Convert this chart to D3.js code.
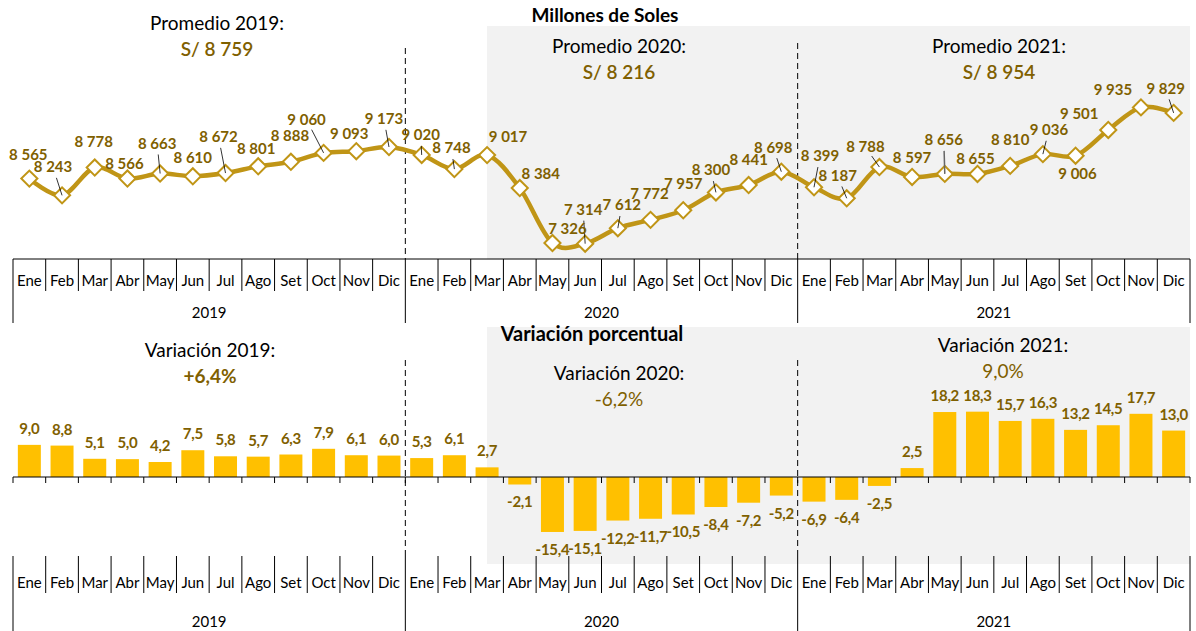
<!DOCTYPE html>
<html>
<head>
<meta charset="utf-8">
<script src="https://cdn.jsdelivr.net/npm/d3@7"></script>
<style>
  body { margin: 0; background: #fff; }
  svg { display: block; font-family: Lato, "Open Sans", sans-serif; }
</style>
</head>
<body>
<svg id="chart"></svg>
<script>
// data
const months = ['Ene', 'Feb', 'Mar', 'Abr', 'May', 'Jun', 'Jul', 'Ago', 'Set', 'Oct', 'Nov', 'Dic'];
const years = ['2019', '2020', '2021'];
const soles = [
  8565, 8243, 8778, 8566, 8663, 8610, 8672, 8801, 8888, 9060, 9093, 9173,
  9020, 8748, 9017, 8384, 7326, 7314, 7612, 7772, 7957, 8300, 8441, 8698,
  8399, 8187, 8788, 8597, 8656, 8655, 8810, 9036, 9006, 9501, 9935, 9829
];
const variacion = [
  9.0, 8.8, 5.1, 5.0, 4.2, 7.5, 5.8, 5.7, 6.3, 7.9, 6.1, 6.0,
  5.3, 6.1, 2.7, -2.1, -15.4, -15.1, -12.2, -11.7, -10.5, -8.4, -7.2, -5.2,
  -6.9, -6.4, -2.5, 2.5, 18.2, 18.3, 15.7, 16.3, 13.2, 14.5, 17.7, 13.0
];
const promedio = ['S/ 8 759', 'S/ 8 216', 'S/ 8 954'];
const variacionAnual = ['+6,4%', '-6,2%', '9,0%'];

// label nudges for the line chart (dx, dy from point), and which get a leader line
const nudge = [
  [-1,-24],[-9,-28],[-1,-26],[-3,-15],[-3,-30],[0,-18],[-7,-36],[-2,-17],[-1,-26],[-17,-33],[-7,-17],[-5,-28],
  [-1,-20],[-3,-21],[21,-18],[21,-14],[15,-14],[-2,-34],[4,-23],[-1,-26],[0,-26],[-5,-22],[0,-25],[-8,-24],
  [6,-31],[-9,-22],[-14,-20],[0,-19],[-1,-34],[-2,-15],[0,-26],[6,-24],[2,18],[-29,-16],[-28,-17],[-8,-24]
];
const leaders = [1, 4, 6, 9, 11, 12, 13, 17, 18, 21, 23, 24, 25, 26, 28, 31, 35];

const W = 1196, H = 631;
const gold = '#C09516', dark = '#7F6000', gray = '#F2F2F2', barCol = '#FFC000';

const svg = d3.select('#chart').attr('width', W).attr('height', H);
const idx = d3.range(36);

const x = d3.scaleBand().domain(idx).range([13, 1190]).padding(0);
const bw = x.bandwidth();
const cx = i => x(i) + bw / 2;

const yTop = d3.scaleLinear().domain([7000, 11500]).range([260, 26]);
const yBot = d3.scaleLinear().domain([-20, 20]).range([477 + 20 * 3.57, 477 - 20 * 3.57]);

const fmtSoles = v => d3.format(',')(v).replace(/,/g, ' ');
const fmtPct = v => d3.format('.1f')(v).replace('.', ',').replace('\u2212', '-');

// ---------------- top chart ----------------
svg.append('rect').attr('x', cx(14)).attr('y', 26)
  .attr('width', 1190 - cx(14)).attr('height', 259 - 26).attr('fill', gray);

svg.append('text').attr('x', 605).attr('y', 22).attr('text-anchor', 'middle')
  .attr('font-size', 19).attr('font-weight', 'bold').text('Millones de Soles');

const topTitles = [[217, 30], [619, 53], [999, 53]];
years.forEach((yr, k) => {
  svg.append('text').attr('x', topTitles[k][0]).attr('y', topTitles[k][1]).attr('text-anchor', 'middle')
    .attr('font-size', 19).attr('fill', '#000').text('Promedio ' + yr + ':');
  svg.append('text').attr('x', topTitles[k][0]).attr('y', topTitles[k][1] + 26).attr('text-anchor', 'middle')
    .attr('font-size', 19).attr('font-weight', 600).attr('fill', dark).text(promedio[k]);
});

// dashed year dividers
[[12, 48], [24, 43]].forEach(d => {
  svg.append('line').attr('x1', x(d[0])).attr('x2', x(d[0])).attr('y1', d[1]).attr('y2', 259)
    .attr('stroke', '#000').attr('stroke-dasharray', '6,4');
});

const line = d3.line().x((d, i) => cx(i)).y(d => yTop(d)).curve(d3.curveCatmullRom.alpha(0));
svg.append('path').datum(soles).attr('d', line)
  .attr('fill', 'none').attr('stroke', gold).attr('stroke-width', 4.5);

svg.selectAll('.mk').data(soles).enter().append('rect')
  .attr('class', 'mk')
  .attr('x', -5.7).attr('y', -5.7).attr('width', 11.4).attr('height', 11.4)
  .attr('transform', (d, i) => `translate(${cx(i)},${yTop(d)}) rotate(45)`)
  .attr('fill', '#fff').attr('stroke', gold).attr('stroke-width', 2);

leaders.forEach(i => {
  const px = cx(i), py = yTop(soles[i]);
  const lx = px + nudge[i][0], ly = py + nudge[i][1];
  const dx = px - lx, dy = py - ly, len = Math.hypot(dx, dy);
  const s = 11 / len;
  svg.append('line').attr('x1', lx + dx * s).attr('y1', ly + dy * s).attr('x2', px).attr('y2', py)
    .attr('stroke', i === 28 ? '#666' : '#000').attr('stroke-width', i === 28 ? 1.5 : 0.8);
});

svg.selectAll('.sl').data(soles).enter().append('text')
  .attr('class', 'sl')
  .attr('x', (d, i) => cx(i) + nudge[i][0])
  .attr('y', (d, i) => yTop(d) + nudge[i][1] + 5)
  .attr('text-anchor', 'middle').attr('font-size', 15).attr('font-weight', 'bold')
  .attr('fill', dark).text(d => fmtSoles(d));

// category axis: month row + year row
const drawAxis = (yAxis, tickBottom, monthY, yearY, sepTop, yearBottom, shortTicks) => {
  svg.append('line').attr('x1', 13).attr('x2', 1190).attr('y1', yAxis).attr('y2', yAxis).attr('stroke', '#000');
  const g = svg.append('g').attr('transform', `translate(0,${monthY})`)
    .call(d3.axisBottom(x).tickSize(0).tickFormat(i => months[i % 12]));
  g.select('.domain').remove();
  g.selectAll('text').attr('y', 0).attr('dy', '0.35em').attr('font-size', 15)
    .attr('font-family', 'Lato, sans-serif').attr('fill', '#000');
  d3.range(37).forEach(i => {
    const xx = i < 36 ? x(i) : 1190;
    if (shortTicks) {
      svg.append('line').attr('x1', xx).attr('x2', xx).attr('y1', yAxis).attr('y2', yAxis + 6).attr('stroke', '#000');
    }
    svg.append('line').attr('x1', xx).attr('x2', xx)
      .attr('y1', sepTop).attr('y2', i % 12 === 0 ? yearBottom : tickBottom)
      .attr('stroke', '#000');
  });
  years.forEach((yr, k) => {
    svg.append('text').attr('x', (x(k * 12) + (k === 2 ? 1190 : x(k * 12 + 12))) / 2).attr('y', yearY)
      .attr('dy', '0.35em').attr('text-anchor', 'middle').attr('font-size', 15).text(yr);
  });
};
drawAxis(259, 291, 281, 313, 259, 323, false);

// ---------------- bottom chart ----------------
svg.append('rect').attr('x', cx(14)).attr('y', 327)
  .attr('width', 1190 - cx(14)).attr('height', 564 - 327).attr('fill', gray);

svg.append('text').attr('x', 592).attr('y', 341).attr('text-anchor', 'middle')
  .attr('font-size', 20).attr('font-weight', 'bold').text('Variación porcentual');

const botTitles = [[210, 357], [619, 380], [1003, 352]];
years.forEach((yr, k) => {
  svg.append('text').attr('x', botTitles[k][0]).attr('y', botTitles[k][1]).attr('text-anchor', 'middle')
    .attr('font-size', 19).text('Variación ' + yr + ':');
  svg.append('text').attr('x', botTitles[k][0]).attr('y', botTitles[k][1] + 26).attr('text-anchor', 'middle')
    .attr('font-size', 19).attr('font-weight', k === 0 ? 'bold' : 'normal')
    .attr('fill', dark).text(variacionAnual[k]);
});

[12, 24].forEach(i => {
  svg.append('line').attr('x1', x(i)).attr('x2', x(i)).attr('y1', 360).attr('y2', 556)
    .attr('stroke', '#000').attr('stroke-dasharray', '6,4');
});

const pad = (bw - 23) / 2;
svg.selectAll('.bar').data(variacion).enter().append('rect')
  .attr('class', 'bar')
  .attr('x', (d, i) => x(i) + pad).attr('width', 23)
  .attr('y', d => yBot(Math.max(0, d)))
  .attr('height', d => Math.abs(yBot(d) - yBot(0)))
  .attr('fill', barCol);

svg.selectAll('.bl').data(variacion).enter().append('text')
  .attr('class', 'bl')
  .attr('x', (d, i) => cx(i))
  .attr('y', d => d >= 0 ? yBot(d) - 11 : yBot(d) + 23)
  .attr('text-anchor', 'middle').attr('font-size', 15).attr('font-weight', 'bold')
  .attr('letter-spacing', -0.3)
  .attr('fill', dark).text(d => fmtPct(d));

drawAxis(477, 593, 583, 622, 556, 631, true);
</script>
</body>
</html>
